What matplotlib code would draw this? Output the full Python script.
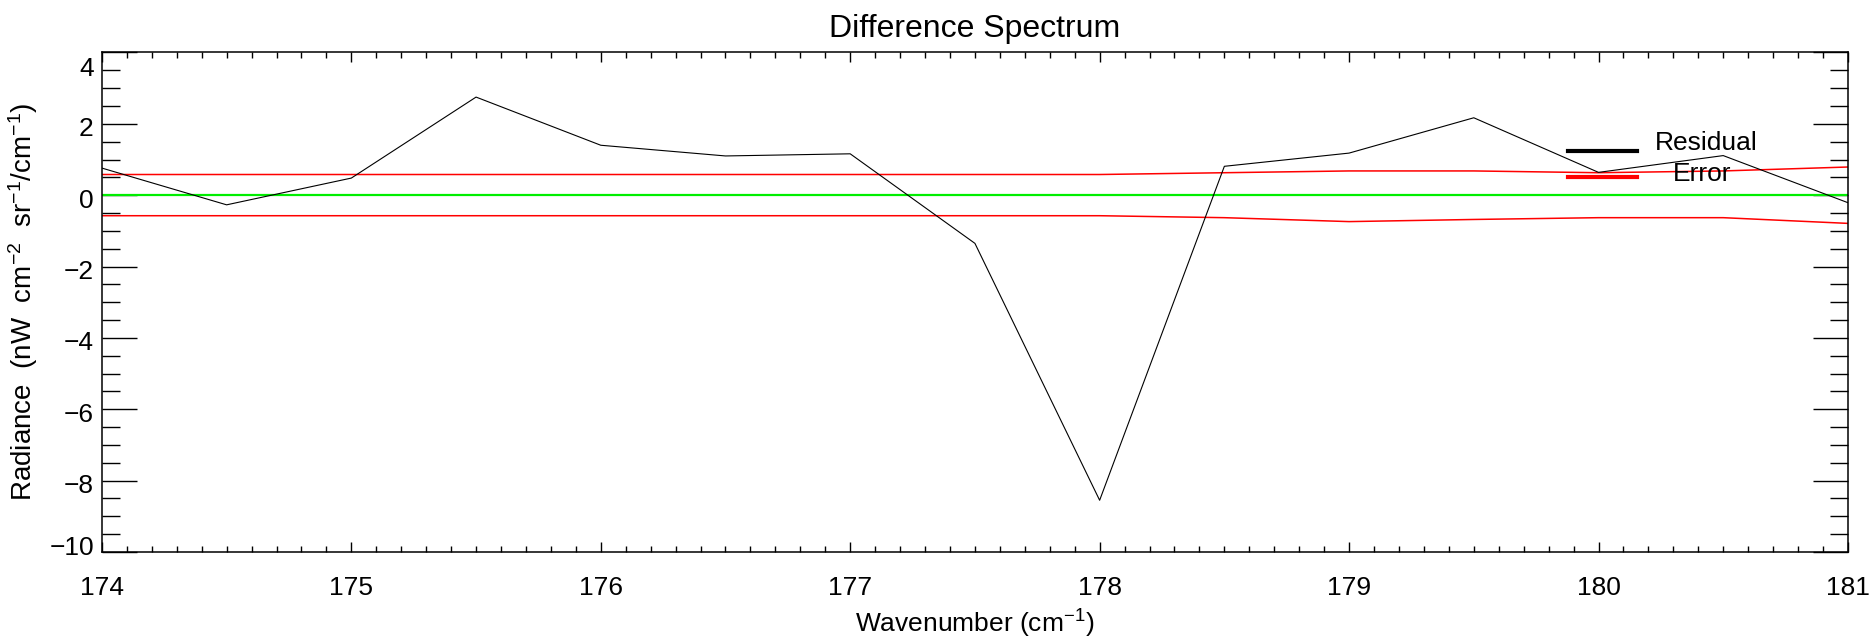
import matplotlib
matplotlib.use("Agg")
import matplotlib.pyplot as plt
import matplotlib.transforms as mtransforms
from matplotlib.ticker import MultipleLocator

plt.rcParams['font.family'] = ['Liberation Sans Narrow', 'Liberation Sans', 'DejaVu Sans']
plt.rcParams['mathtext.fontset'] = 'custom'
plt.rcParams['mathtext.rm'] = 'Liberation Sans'
plt.rcParams['mathtext.it'] = 'Liberation Sans'
plt.rcParams['mathtext.bf'] = 'Liberation Sans'

# wavenumber grid (cm^-1)
wavenumber = [174.0, 174.5, 175.0, 175.5, 176.0, 176.5, 177.0, 177.5,
              178.0, 178.5, 179.0, 179.5, 180.0, 180.5, 181.0]
# residual radiance
residual = [0.76, -0.27, 0.48, 2.75, 1.40, 1.10, 1.16, -1.35,
            -8.55, 0.81, 1.18, 2.17, 0.64, 1.11, -0.21]
# error envelope
error_upper = [0.58, 0.58, 0.58, 0.58, 0.58, 0.58, 0.58, 0.58,
               0.58, 0.63, 0.68, 0.68, 0.63, 0.68, 0.79]
error_lower = [-0.575, -0.575, -0.575, -0.575, -0.575, -0.575, -0.575, -0.575,
               -0.575, -0.63, -0.74, -0.68, -0.63, -0.63, -0.79]

xticks = [174, 175, 176, 177, 178, 179, 180, 181]
yticks = [-10, -8, -6, -4, -2, 0, 2, 4]
ytick_labels = ['\u221210', '\u22128', '\u22126', '\u22124', '\u22122', '0', '2', '4']

fig = plt.figure(figsize=(18.7, 6.4), dpi=100)
ax = fig.add_axes([0.0545, 0.1375, 0.9337, 0.7805])

ax.plot(wavenumber, error_upper, color='#ff0000', lw=1.1, zorder=2)
ax.plot(wavenumber, error_lower, color='#ff0000', lw=1.1, zorder=2)
ax.axhline(0, color='#00ee00', lw=1.6, zorder=2)
ax.plot(wavenumber, residual, color='black', lw=0.8, zorder=3)

ax.set_xlim(174, 181)
ax.set_ylim(-10, 4)
ax.set_xticks(xticks)
ax.set_yticks(yticks)
ax.xaxis.set_minor_locator(MultipleLocator(0.1))
ax.yaxis.set_minor_locator(MultipleLocator(0.5))

ax.tick_params(which='both', direction='in', top=True, right=True,
               labelsize=19, width=1.0, color='black')
ax.tick_params(axis='x', which='major', length=7.2, pad=17)
ax.tick_params(axis='x', which='minor', length=4)
ax.tick_params(axis='y', which='major', length=25, labelleft=False)
ax.tick_params(axis='y', which='minor', length=13)
for side in ax.spines.values():
    side.set_linewidth(1.1)

# y tick labels placed by hand, with the IDL-like vertical nudges
for val, lab in zip(yticks, ytick_labels):
    dy = -2.2
    if val == yticks[0]:
        dy = 5
    elif val == yticks[-1]:
        dy = -10
    off = mtransforms.ScaledTranslation(-5.8 / 72, dy / 72, fig.dpi_scale_trans)
    ax.text(0, val, lab, fontsize=19, ha='right', va='center_baseline',
            transform=ax.get_yaxis_transform() + off)

ax.set_title('Difference Spectrum', fontsize=23, pad=11)
ax.set_xlabel('Wavenumber (cm$^{-1}$)', fontsize=19, labelpad=6)
ax.set_ylabel('Radiance  (nW  cm$^{-2}$  sr$^{-1}$/cm$^{-1}$)', fontsize=20, labelpad=41)

# legend drawn in axes fraction, like the IDL legend
ax.plot([0.8396, 0.8792], [0.8028, 0.8028], color='black', lw=3,
        transform=ax.transAxes, zorder=4)
ax.plot([0.8396, 0.8792], [0.7502, 0.7502], color='#ff0000', lw=3,
        transform=ax.transAxes, zorder=4)
ax.text(0.8895, 0.8188, 'Residual', fontsize=19, va='center', ha='left',
        transform=ax.transAxes)
ax.text(0.8998, 0.7568, 'Error', fontsize=19, va='center', ha='left',
        transform=ax.transAxes)

fig.savefig('out.png', dpi=100)
